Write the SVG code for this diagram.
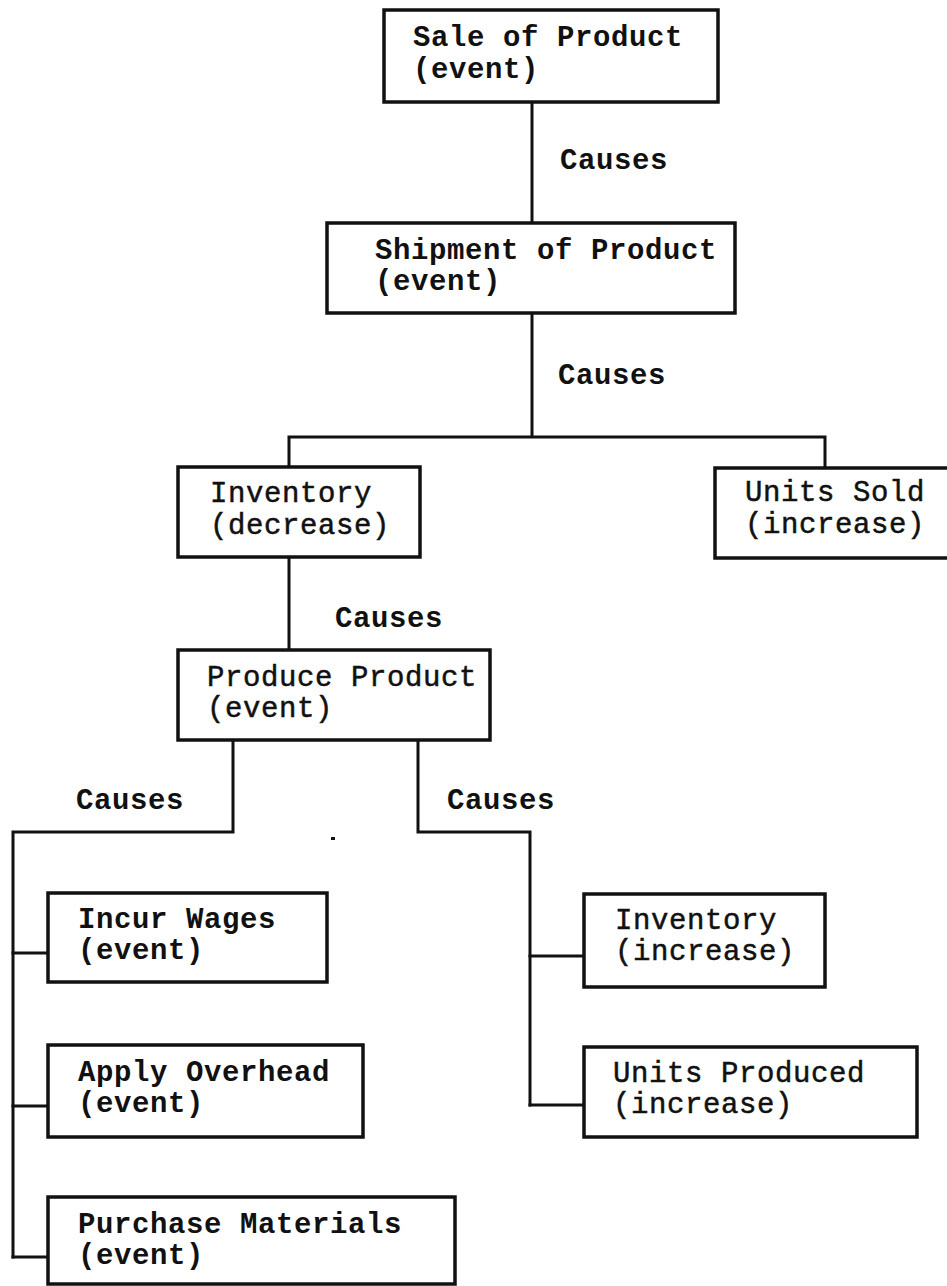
<svg xmlns="http://www.w3.org/2000/svg" width="947" height="1286" viewBox="0 0 947 1286">
  <style>
    .box { fill: #ffffff; stroke: #111111; stroke-width: 3.5; }
    .wire { fill: none; stroke: #111111; stroke-width: 3; stroke-linecap: square; }
    .lbl { font-family: "Liberation Mono", "DejaVu Sans Mono", monospace; font-size: 29px; letter-spacing: 0.6px; fill: #111111; stroke: #111111; stroke-width: 0.5px; }
    .heavy { font-weight: bold; stroke-width: 0; }
  </style>

  <rect width="947" height="1286" fill="#ffffff"/>

  <!-- connectors -->
  <g id="connectors">
    <!-- sale -> shipment -->
    <path class="wire" d="M532 102 V223"/>
    <!-- shipment -> split -->
    <path class="wire" d="M532 313 V437 M289 437 H825 M289 437 V467 M825 437 V468"/>
    <!-- inventory decrease -> produce -->
    <path class="wire" d="M289 557 V650"/>
    <!-- produce -> left branch -->
    <path class="wire" d="M233 740 V832 H13 V1257"/>
    <path class="wire" d="M13 953 H48 M13 1106 H48 M13 1257 H48"/>
    <!-- produce -> right branch -->
    <path class="wire" d="M418 740 V832 H530 V1105"/>
    <path class="wire" d="M530 956 H583 M530 1105 H583"/>
    <g class="lbl heavy">
      <text x="560" y="169">Causes</text>
      <text x="558" y="384">Causes</text>
      <text x="335" y="627">Causes</text>
      <text x="76" y="809">Causes</text>
      <text x="447" y="809">Causes</text>
    </g>
    <rect x="331" y="837" width="4" height="3" fill="#111111"/>
  </g>

  <g id="sale-of-product">
    <rect class="box" x="384" y="10" width="334" height="92"/>
    <text class="lbl heavy" x="413" y="46">Sale of Product</text>
    <text class="lbl heavy" x="413" y="78">(event)</text>
  </g>

  <g id="shipment-of-product">
    <rect class="box" x="327" y="223" width="408" height="90"/>
    <text class="lbl heavy" x="375" y="259">Shipment of Product</text>
    <text class="lbl heavy" x="375" y="290">(event)</text>
  </g>

  <g id="inventory-decrease">
    <rect class="box" x="178" y="467" width="242" height="90"/>
    <text class="lbl" x="210" y="502">Inventory</text>
    <text class="lbl" x="210" y="534">(decrease)</text>
  </g>

  <g id="units-sold">
    <rect class="box" x="715" y="468" width="240" height="90"/>
    <text class="lbl" x="745" y="501">Units Sold</text>
    <text class="lbl" x="745" y="533">(increase)</text>
  </g>

  <g id="produce-product">
    <rect class="box" x="178" y="650" width="312" height="90"/>
    <text class="lbl" x="207" y="686">Produce Product</text>
    <text class="lbl" x="207" y="717">(event)</text>
  </g>

  <g id="incur-wages">
    <rect class="box" x="48" y="893" width="279" height="89"/>
    <text class="lbl heavy" x="78" y="928">Incur Wages</text>
    <text class="lbl heavy" x="78" y="959">(event)</text>
  </g>

  <g id="apply-overhead">
    <rect class="box" x="48" y="1045" width="315" height="92"/>
    <text class="lbl heavy" x="78" y="1081">Apply Overhead</text>
    <text class="lbl heavy" x="78" y="1112">(event)</text>
  </g>

  <g id="purchase-materials">
    <rect class="box" x="48" y="1197" width="407" height="87"/>
    <text class="lbl heavy" x="78" y="1233">Purchase Materials</text>
    <text class="lbl heavy" x="78" y="1264">(event)</text>
  </g>

  <g id="inventory-increase">
    <rect class="box" x="584" y="894" width="241" height="93"/>
    <text class="lbl" x="615" y="929">Inventory</text>
    <text class="lbl" x="615" y="960">(increase)</text>
  </g>

  <g id="units-produced">
    <rect class="box" x="584" y="1047" width="333" height="90"/>
    <text class="lbl" x="613" y="1082">Units Produced</text>
    <text class="lbl" x="613" y="1113">(increase)</text>
  </g>
</svg>
